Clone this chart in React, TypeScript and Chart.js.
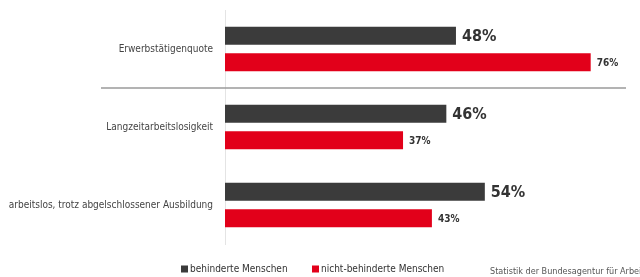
import React, { useEffect, useRef } from "react";
import { Chart, registerables } from "chart.js";

Chart.register(...registerables);

const categories = [
  "Erwerbstätigenquote",
  "Langzeitarbeitslosigkeit",
  "arbeitslos, trotz abgelschlossener Ausbildung",
];
const seriesNames = ["behinderte Menschen", "nicht-behinderte Menschen"];
const behinderte = [48, 46, 54];
const nichtBehinderte = [76, 37, 43];
const sourceText = "Statistik der Bundesagentur für Arbeit";

const DARK = "#3b3b3b";
const RED = "#e2001a";
const FONT = '"Liberation Sans Narrow", "DejaVu Sans Condensed", "Open Sans", sans-serif';

const overlayPlugin = {
  id: "overlay",
  afterDatasetsDraw(chart: any) {
    const ctx = chart.ctx;
    const y = chart.scales.y;
    ctx.save();
    // separator between first and second group
    const sepY = (y.getPixelForValue(0) + y.getPixelForValue(1)) / 2;
    ctx.strokeStyle = "#9a9a9a";
    ctx.lineWidth = 1.5;
    ctx.beginPath();
    ctx.moveTo(101, sepY);
    ctx.lineTo(626, sepY);
    ctx.stroke();

    // value labels
    chart.data.datasets.forEach((ds: any, di: number) => {
      const meta = chart.getDatasetMeta(di);
      ctx.fillStyle = "#333333";
      ctx.textBaseline = "middle";
      ctx.textAlign = "left";
      ctx.font = di === 0 ? `bold 16px ${FONT}` : `bold 10px ${FONT}`;
      meta.data.forEach((el: any, i: number) => {
        ctx.fillText(`${ds.data[i]}%`, el.x + 6, el.y + 1);
      });
    });

    // legend
    const legY = 269;
    const legX = [181, 312];
    ctx.font = `10px ${FONT}`;
    ctx.textBaseline = "middle";
    chart.data.datasets.forEach((ds: any, di: number) => {
      ctx.fillStyle = ds.backgroundColor;
      ctx.fillRect(legX[di], legY - 3.5, 7, 7);
      ctx.fillStyle = "#333333";
      ctx.fillText(ds.label, legX[di] + 9, legY);
    });

    // source
    ctx.font = `9px ${FONT}`;
    ctx.fillStyle = "#555555";
    ctx.fillText(sourceText, 490, 272);
    ctx.restore();
  },
};

export default function App() {
  const ref = useRef<HTMLCanvasElement>(null);
  useEffect(() => {
    document.body.style.margin = "0";
    const chart = new Chart(ref.current as HTMLCanvasElement, {
      type: "bar",
      data: {
        labels: categories,
        datasets: [
          { label: seriesNames[0], data: behinderte, backgroundColor: DARK },
          { label: seriesNames[1], data: nichtBehinderte, backgroundColor: RED },
        ],
      },
      options: {
        indexAxis: "y",
        responsive: false,
        animation: false,
        devicePixelRatio: 1,
        layout: { padding: { left: 0, right: 6, top: 10, bottom: 33 } },
        datasets: { bar: { categoryPercentage: 0.68, barPercentage: 0.68 } },
        plugins: { legend: { display: false }, tooltip: { enabled: false } },
        scales: {
          x: { display: false, min: 0, max: 85 },
          y: {
            afterFit: (scale: any) => {
              scale.width = 225;
            },
            grid: {
              display: true,
              drawOnChartArea: false,
              drawTicks: true,
              tickLength: 12,
              tickColor: "rgba(0,0,0,0)",
            },
            border: { display: true, color: "#e4e4e4", width: 1 },
            ticks: { padding: 0, color: "#444444", font: { family: FONT, size: 10 } },
          },
        },
      },
      plugins: [overlayPlugin],
    } as any);
    return () => chart.destroy();
  }, []);
  return (
    <div style={{ position: "absolute", left: 0, top: 0, width: 640, height: 277 }}>
      <canvas ref={ref} width={640} height={277} />
    </div>
  );
}
